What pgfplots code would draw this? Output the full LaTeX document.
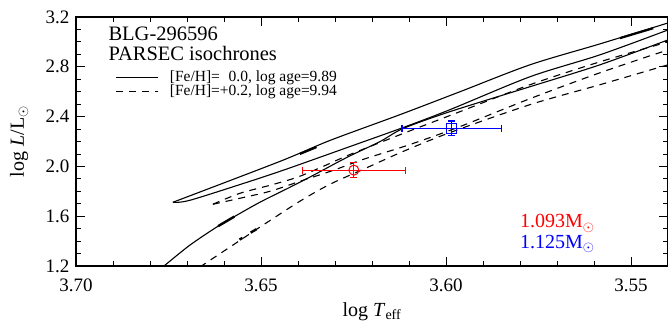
\documentclass[border=0pt]{standalone}
\usepackage{fontspec}
\setmainfont{Liberation Serif}
\usepackage{pgfplots}
\pgfplotsset{compat=1.18}
\begin{document}
\begin{tikzpicture}
\begin{axis}[
  scale only axis, width=592bp, height=249bp,
  x dir=reverse, xmin=3.54, xmax=3.70, ymin=1.2, ymax=3.2,
  xtick={3.55,3.60,3.65,3.70}, ytick={1.2,1.6,2.0,2.4,2.8,3.2},
  minor x tick num=4, minor y tick num=3,
  tick align=inside, major tick length=9bp, minor tick length=5bp,
  /pgf/number format/assume math mode=true,
  xticklabel={\pgfmathprintnumber[fixed,fixed zerofill,precision=2]{\tick}},
  yticklabel={\pgfmathprintnumber[fixed,fixed zerofill,precision=1]{\tick}},
  tick label style={font=\fontsize{19bp}{22bp}\selectfont},
  xticklabel style={yshift=-9bp},
  yticklabel style={xshift=-3bp},
  label style={font=\fontsize{20bp}{24bp}\selectfont},
  xlabel={log \textit{T}\textsubscript{eff}},
  ylabel={log \textit{L}/L$_\odot$},
  xlabel style={at={(axis description cs:0.5,-0.201)}, anchor=base},
  ylabel style={at={(axis description cs:-0.096,0.5)}, anchor=center},
  axis line style={line width=1.2bp},
  every tick/.style={black, line width=0.8bp},
  legend style={at={(axis description cs:0.062,0.80)}, anchor=north west, draw=none, fill=none,
    font=\fontsize{15.5bp}{18bp}\selectfont, row sep=-2bp, column sep=9bp},
  legend cell align=left,
  legend image code/.code={\draw[#1] (0bp,0bp) -- (42bp,0bp);},
]
\addlegendimage{black, line width=1bp}
\addlegendentry{{[}Fe/H{]}=\phantom{+}0.0, log age=9.89}
\addlegendimage{black, line width=1bp, dash pattern=on 7bp off 6bp}
\addlegendentry{{[}Fe/H{]}=+0.2, log age=9.94}

% solid isochrone: RGB-tip to clump connection
\addplot[black, line width=1.1bp, smooth, tension=0.5, forget plot] coordinates {
(3.6738,1.712) (3.6449,2.04) (3.6314,2.208) (3.6124,2.416) (3.5962,2.6)
(3.5773,2.816) (3.5584,2.984) (3.54,3.152)};
\addplot[black, line width=2.2bp, forget plot] coordinates {(3.6395,2.10) (3.6350,2.155)};
\addplot[black, line width=2.2bp, forget plot] coordinates {(3.5530,3.03) (3.5440,3.11)};
% solid isochrone: clump / AGB
\addplot[black, line width=1.1bp, smooth, tension=0.5, forget plot] coordinates {
(3.6738,1.712) (3.6692,1.728) (3.6530,1.88) (3.6449,1.96) (3.6395,2.016)
(3.6259,2.16) (3.6116,2.312) (3.5989,2.456) (3.5773,2.72) (3.5584,2.896) (3.54,3.096)};
% solid isochrone: RGB
\addplot[black, line width=1.1bp, smooth, tension=0.5, forget plot] coordinates {
(3.6767,1.192) (3.6759,1.208) (3.6692,1.368) (3.6616,1.52) (3.6570,1.6)
(3.6503,1.712) (3.6422,1.832) (3.6359,1.928) (3.6268,2.072) (3.6178,2.2)
(3.6116,2.304) (3.5989,2.44) (3.5773,2.64) (3.5584,2.816) (3.54,3.016)};
\addplot[black, line width=2.4bp, forget plot] coordinates {(3.6616,1.52) (3.6572,1.597)};

% dashed isochrone: RGB
\addplot[black, line width=1.1bp, dash pattern=on 7bp off 6bp, smooth, tension=0.5, forget plot] coordinates {
(3.6665,1.192) (3.6657,1.208) (3.6584,1.352) (3.6503,1.512) (3.6395,1.72)
(3.6314,1.856) (3.6224,1.976) (3.6116,2.12) (3.5989,2.272) (3.5773,2.496)
(3.5584,2.656) (3.54,2.816)};
\addplot[black, line width=2.4bp, forget plot] coordinates {(3.6528,1.468) (3.6512,1.496)};
\addplot[black, line width=2.4bp, forget plot] coordinates {(3.6558,1.412) (3.6550,1.426)};
% dashed isochrone: tip to clump
\addplot[black, line width=1.1bp, dash pattern=on 7bp off 6bp, smooth, tension=0.5, forget plot] coordinates {
(3.6630,1.696) (3.6557,1.784) (3.6476,1.848) (3.6403,1.912) (3.6332,2.0)
(3.6259,2.096) (3.6116,2.264) (3.5962,2.44) (3.5773,2.656) (3.5584,2.84) (3.54,3.0)};
% dashed isochrone: clump / AGB
\addplot[black, line width=1.1bp, dash pattern=on 7bp off 6bp, smooth, tension=0.5, forget plot] coordinates {
(3.6630,1.696) (3.6557,1.744) (3.6476,1.8) (3.6395,1.88) (3.6305,1.968)
(3.6224,2.056) (3.6097,2.176) (3.5962,2.32) (3.5773,2.544) (3.5584,2.752) (3.54,2.936)};

% data point 1 (red): error bars and marker
\addplot[red, line width=1.1bp, mark=|, mark size=3.5bp, mark options={solid, line width=1.1bp}, forget plot]
  coordinates {(3.6389,1.97) (3.6109,1.97)};
\addplot[red, line width=1.1bp, mark=-, mark size=3.5bp, mark options={solid, line width=1.1bp}, forget plot]
  coordinates {(3.6249,1.91) (3.6249,2.03)};
\addplot[red, only marks, mark=o, mark size=5bp, line width=1bp, forget plot]
  coordinates {(3.6249,1.97)};
% data point 2 (blue)
\addplot[blue, line width=1.1bp, mark=|, mark size=3.5bp, mark options={solid, line width=1.1bp}, forget plot]
  coordinates {(3.6119,2.305) (3.5849,2.305)};
\addplot[blue, line width=1.1bp, mark=-, mark size=3.5bp, mark options={solid, line width=1.1bp}, forget plot]
  coordinates {(3.5984,2.245) (3.5984,2.365)};
\addplot[blue, only marks, mark=square, mark size=5bp, line width=1bp, forget plot]
  coordinates {(3.5984,2.305)};

\node[anchor=base west, font=\fontsize{20.5bp}{24bp}\selectfont] at (axis description cs:0.049,0.904) {BLG-296596};
\node[anchor=base west, font=\fontsize{20.5bp}{24bp}\selectfont] at (axis description cs:0.049,0.827) {PARSEC isochrones};
\node[anchor=base east, red, font=\fontsize{20bp}{24bp}\selectfont] at (axis description cs:0.882,0.153) {1.093M$_\odot$};
\node[anchor=base east, blue, font=\fontsize{20bp}{24bp}\selectfont] at (axis description cs:0.882,0.072) {1.125M$_\odot$};
\end{axis}
\pgfresetboundingbox
\path (current axis.south west) +(-76bp,-59bp) (current axis.north east) +(0bp,17bp);
\end{tikzpicture}
\end{document}
